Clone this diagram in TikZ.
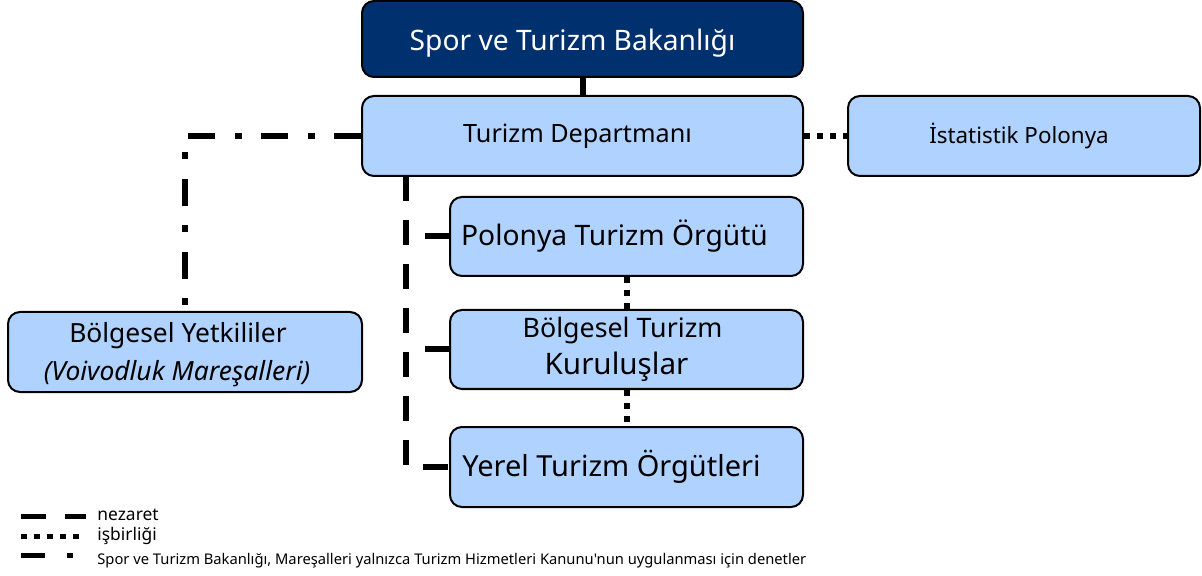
\documentclass[tikz,border=0pt]{standalone}
\usepackage{fontspec}
\setmainfont{Noto Sans}[Ligatures=TeXOff]
\usetikzlibrary{positioning}
\definecolor{bakan}{HTML}{00306E}
\definecolor{kutumavi}{HTML}{B0D2FF}

\begin{document}
\begin{tikzpicture}[x=0.5pt,y=-0.5pt,
 kutu/.style={draw=black,fill=kutumavi,rounded corners=6pt,line width=1pt,inner sep=0pt,align=center},
 nezaret/.style={line width=3pt,dash pattern=on 12.5pt off 9.5pt},
 isbirligi/.style={line width=3pt,dash pattern=on 3pt off 3.5pt},
 denetim/.style={line width=3pt,dash pattern=on 13.5pt off 9.5pt on 3.5pt off 10pt},
 aciklama/.style={anchor=west,inner sep=0pt,font=\fontsize{8.7}{10}\selectfont}]
\useasboundingbox (0,0) rectangle (1202,576);
% kutular
\node[kutu,fill=bakan,text=white,minimum width=220.5pt,minimum height=38pt,font=\fontsize{14.1}{16}\selectfont] (bak) at (582.5,39) {\raisebox{-2pt}[\height][\depth]{Spor ve Turizm Bakanlığı}\hspace*{10pt}};
\node[kutu,minimum width=220.5pt,minimum height=40pt,font=\fontsize{12.6}{14}\selectfont] (tdep) at (582.5,136) {Turizm Departmanı\hspace*{5pt}};
\node[kutu,minimum width=176pt,minimum height=40pt,font=\fontsize{11.2}{13}\selectfont] (ist) at (1024,136) {İstatistik Polonya\hspace*{5pt}};
\node[kutu,minimum width=176.5pt,minimum height=39.5pt,font=\fontsize{14.1}{16}\selectfont] (pto) at (626.5,236.5) {Polonya Turizm Örgütü\hspace*{12pt}};
\node[kutu,minimum width=176.5pt,minimum height=39.5pt,font=\fontsize{13.4}{18.5}\selectfont] (bto) at (626.5,349.5) {Bölgesel Turizm\hspace*{4pt}\\{\fontsize{14.8}{16}\selectfont Kuruluşlar\hspace*{10pt}}};
\node[kutu,minimum width=176.5pt,minimum height=40pt,font=\fontsize{14.5}{16}\selectfont] (yto) at (626.5,467) {Yerel Turizm Örgütleri\hspace*{15pt}};
\node[kutu,minimum width=177pt,minimum height=40pt,font=\fontsize{13.2}{19}\selectfont] (byk) at (185,352) {\raisebox{-1.5pt}[\height][\depth]{Bölgesel Yetkililer}\hspace*{7pt}\\\raisebox{-1.5pt}[\height][\depth]{\textit{(Voivodluk Mareşalleri)}}\hspace*{8pt}};
% baglantilar
\draw[line width=3pt] (bak.south) -- (tdep.north);
\draw[denetim] (tdep.west) -| (byk.north);
\draw[isbirligi] (tdep.east) -- (ist.west);
\coordinate (omurga) at (406,176);
\draw[nezaret] (omurga) |- (yto.west);
\draw[nezaret,dash phase=12.5pt] (omurga |- pto.west) -- (pto.west);
\draw[nezaret,dash phase=12.5pt] (omurga |- bto.west) -- (bto.west);
\draw[isbirligi] (pto.south) -- (bto.north);
\draw[isbirligi] (bto.south) -- (yto.north);
% lejant
\coordinate (l1) at (21,516);
\coordinate (l2) at (21,536);
\coordinate (l3) at (21,555);
\draw[nezaret,line width=2.5pt] (l1) -- ++(65,0);
\draw[isbirligi,line width=2.5pt] (l2) -- ++(58,0);
\draw[denetim,line width=2.5pt,dash pattern=on 12pt off 11pt on 3pt off 10pt] (l3) -- ++(54,0);
\node[aciklama] (n1) at (97,515) {nezaret};
\node[aciklama] (n2) at (97,536) {işbirliği};
\node[aciklama,font=\fontsize{7.36}{9}\selectfont] (n3) at (97,561) {Spor ve Turizm Bakanlığı, Mareşalleri yalnızca Turizm Hizmetleri Kanunu'nun uygulanması için denetler};
\end{tikzpicture}
\end{document}
